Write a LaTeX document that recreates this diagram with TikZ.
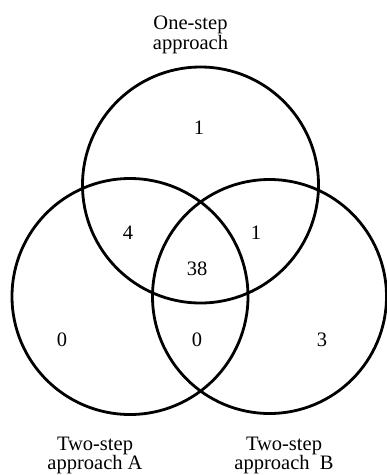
\documentclass[tikz,border=0pt]{standalone}
\usepackage{fontspec}
\setmainfont{Liberation Serif}
\begin{document}
\begin{tikzpicture}[x=1pt,y=-1pt,
  setcircle/.style={draw=black,line width=2.8pt},
  countlbl/.style={inner sep=0pt,font=\fontsize{20.5}{18}\selectfont},
  setlbl/.style={inner sep=0pt,align=center,font=\fontsize{20.5}{18}\selectfont}]
\useasboundingbox (0,0) rectangle (387,475);
\path[setcircle] (200.5,185) circle[radius=118];
\path[setcircle] (130,296.5) circle[radius=118];
\path[setcircle] (269.5,296.5) circle[radius=117];
\node[setlbl] (one) at (190.5,35) {One-step\\approach};
\node[setlbl] (twoA) at (95,455.5) {Two-step\\approach A};
\node[setlbl] (twoB) at (284,455.5) {Two-step\\approach\ \ B};
\node[countlbl] (n1) at (199,128) {1};
\node[countlbl] (n4) at (128,233) {4};
\node[countlbl] (n1b) at (256,233) {1};
\node[countlbl] (n38) at (197,269) {38};
\node[countlbl] (n0a) at (62,340) {0};
\node[countlbl] (n0b) at (197,340) {0};
\node[countlbl] (n3) at (322,340) {3};
\end{tikzpicture}
\end{document}
